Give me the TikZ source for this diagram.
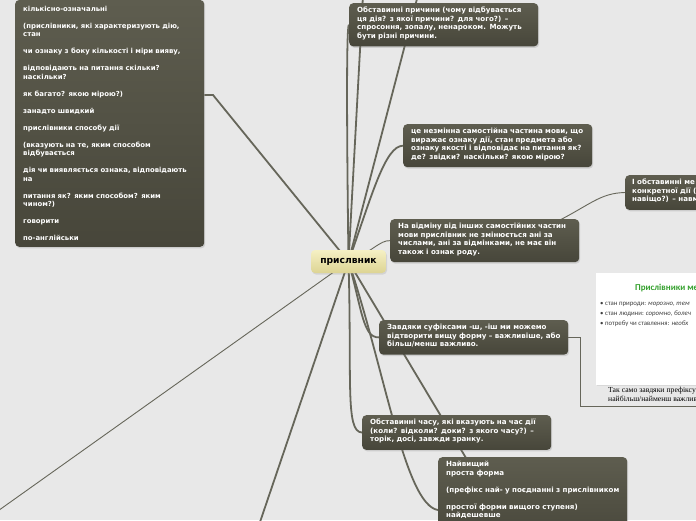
\documentclass[tikz,border=0pt]{standalone}
\usepackage{fontspec}
\setmainfont{DejaVu Sans}
\newfontfamily\slidefont{Carlito}
\newfontfamily\capfont{Liberation Serif}
\usepackage{tikz}
\usetikzlibrary{shadows}
\pgfdeclarelayer{bg}
\pgfdeclarelayer{lines}
\pgfsetlayers{bg,lines,main}

\definecolor{paper}{HTML}{E8E8E8}
\definecolor{boxtop}{HTML}{5E5D4F}
\definecolor{boxbot}{HTML}{47463A}
\definecolor{linecol}{HTML}{66665A}
\definecolor{roottop}{HTML}{F5F0C4}
\definecolor{rootbot}{HTML}{DDD493}
\definecolor{slidegreen}{HTML}{33A02C}

\newcommand{\boxfont}{\fontsize{7.1}{8.5}\selectfont\bfseries}
\newcommand{\smallboxfont}{\fontsize{6.9}{8.5}\selectfont\bfseries}
\newcommand{\bstrut}{\rule[-4pt]{0pt}{4pt}}
\newcommand{\tline}[1]{\mbox{#1}} % one line, never broken

\begin{document}
\begin{tikzpicture}[
            x = 1pt, y = -1pt, % one unit per pixel, y downwards
            line cap = round,
            line join = round
        ]
        \tikzstyle{topic}=[
            rectangle,
            rounded corners = 4pt,
            top color = boxtop,
            bottom color = boxbot,
            text = white,
            font = \boxfont,
            align = left,
            text width = 173pt,
            inner xsep = 8pt,
            inner ysep = 4pt,
            anchor = north west,
            drop shadow = {shadow xshift=1pt, shadow yshift=-1.5pt, opacity=.25}
        ]
        \tikzstyle{branch}=[draw = linecol, line width = 1.8pt]
        \tikzstyle{twig}=[draw = linecol, line width = 0.9pt]
        \tikzstyle{slideline}=[anchor = base west, inner sep = 0pt, text = black!75,
            font = \slidefont\fontsize{6.8}{7}\selectfont]
        \tikzstyle{capline}=[anchor = base west, inner sep = 0pt,
            font = \capfont\fontsize{7.7}{9}\selectfont]

        \useasboundingbox (0,0) rectangle (696,520);
        \begin{pgfonlayer}{bg}
            \fill[paper] (0,0) rectangle (696,520);
        \end{pgfonlayer}

        % central topic
        \node[rectangle, rounded corners = 4pt, top color = roottop, bottom color = rootbot,
              minimum width = 75pt, minimum height = 23pt,
              font = \fontsize{9.2}{11}\selectfont\bfseries,
              drop shadow = {shadow xshift=1pt, shadow yshift=-1.5pt, opacity=.2}]
              (root) at (348.5,261.5) {прислвник};

        % topics
        \node[topic, font = \smallboxfont, anchor = south west, inner ysep = 6pt] (kol) at (15,247) {кількісно-означальні\\[8.5pt]
            \tline{(прислівники, які характеризують дію,}\\ стан\\[8.5pt]
            \tline{чи ознаку з боку кількості і міри вияву,}\\[8.5pt]
            \tline{відповідають на питання скільки?}\\ наскільки?\\[8.5pt]
            як багато? якою мірою?)\\[8.5pt]
            занадто швидкий\\[8.5pt]
            прислівники способу дії\\[8.5pt]
            \tline{(вказують на те, яким способом}\\ відбувається\\[8.5pt]
            \tline{дія чи виявляється ознака, відповідають}\\ на\\[8.5pt]
            \tline{питання як? яким способом? яким}\\ чином?)\\[8.5pt]
            говорити\\[8.5pt]
            по-англійськи};
        \node[topic] (prych) at (349,3) {\tline{Обставинні причини (чому відбувається}\\
            \tline{ця дія? з якої причини? для чого?) --}\\
            \tline{спросоння, зопалу, ненароком. Можуть}\\
            бути різні причини.\bstrut};
        \node[topic] (vyzn) at (403,124) {\tline{це незмінна самостійна частина мови, що}\\
            \tline{виражає ознаку дії, стан предмета або}\\
            \tline{ознаку якості і відповідає на питання як?}\\
            \tline{де? звідки? наскільки? якою мірою?}\bstrut};
        \node[topic] (vidm) at (390,219) {\tline{На відміну від інших самостійних частин}\\
            \tline{мови прислівник не змінюється ані за}\\
            \tline{числами, ані за відмінками, не має він}\\
            також і ознак роду.\bstrut};
        \node[topic, inner xsep = 7pt] (meta) at (625,175) {І обставинні ме\\
            конкретної дії (д\\
            навіщо?) -- навм\bstrut};
        \node[topic] (sufx) at (379,320) {\tline{Завдяки суфіксами -ш, -іш ми можемо}\\
            \tline{відтворити вищу форму -- важливіше, або}\\
            більш/менш важливо.\bstrut};
        \node[topic] (chas) at (362,415) {\tline{Обставинні часу, які вказують на час дії}\\
            \tline{(коли? відколи? доки? з якого часу?) --}\\
            торік, досі, завжди зранку.\bstrut};
        \node[topic] (najv) at (438,457) {Найвищий\\
            проста форма\\[8.5pt]
            \tline{(префікс най- у поєднанні з прислівником}\\[8.5pt]
            \tline{простої форми вищого ступеня)}\\
            найдешевше\\[8.5pt] \bstrut};

        % slide with caption
        \node[rectangle, fill = white, anchor = north west, minimum width = 110pt, minimum height = 112pt,
              drop shadow = {shadow xshift=1pt, shadow yshift=-1pt, opacity=.15}] (slide) at (596,273) {};
        \node[anchor = base west, text = slidegreen, inner sep = 0pt,
              font = \slidefont\fontsize{9}{10}\selectfont\bfseries] (stitle) at (635,290) {Прислівники ме};
        \node[slideline] (sl1) at (600,305) {• стан природи: \textit{морозно, тем}};
        \node[slideline] (sl2) at (600,315) {• стан людини: \textit{соромно, болеч}};
        \node[slideline] (sl3) at (600,325) {• потребу чи ставлення: \textit{необх}};
        \node[capline] (capt1) at (608,392) {Так само завдяки префіксу};
        \node[capline] (capt2) at (608,401) {найбільш/найменш важлив};

        % connector ends
        \coordinate (kolj) at (213,95);
        \coordinate (up1) at (363,-5);
        \coordinate (up2) at (418,-5);
        \coordinate (najvin) at (438,510);
        \coordinate (najvtop) at (472,468);
        \coordinate (dn1) at (259,525);
        \coordinate (dn2) at (-5,513);
        \coordinate (vidmout) at (556,222);
        \coordinate (captj) at (580,406);
        \coordinate (capte) at (700,406);

        \begin{pgfonlayer}{lines}
            \draw[branch] (root.center) -- (kolj) -- (kolj -| kol.east);
            \draw[branch] (root.center) .. controls (347,150) and (346,24) .. (prych.west);
            \draw[branch] (root.center) -- (up1);
            \draw[branch] (root.center) -- (up2);
            \draw[branch] (root.center) .. controls (372,195) and (385,146) .. (vyzn.west);
            \draw[twig] (root.center) .. controls (372,252) and (380,240) .. (vidm.west);
            \draw[branch] (root.center) .. controls (362,310) and (363,338) .. (sufx.west);
            \draw[branch] (root.center) .. controls (352,380) and (345,432) .. (chas.west);
            \draw[branch] (root.center) .. controls (385,370) and (405,505) .. (najvin);
            \draw[branch] (root.center) -- (najvtop);
            \draw[branch] (root.center) -- (dn1);
            \draw[twig] (root.center) -- (dn2);
            % secondary links
            \draw[twig] (vidmout) .. controls (590,205) and (600,193) .. (meta.west);
            \draw[twig, line width = 0.6pt] (sufx.east) -| (captj) -- (capte);
        \end{pgfonlayer}
    \end{tikzpicture}
\end{document}
